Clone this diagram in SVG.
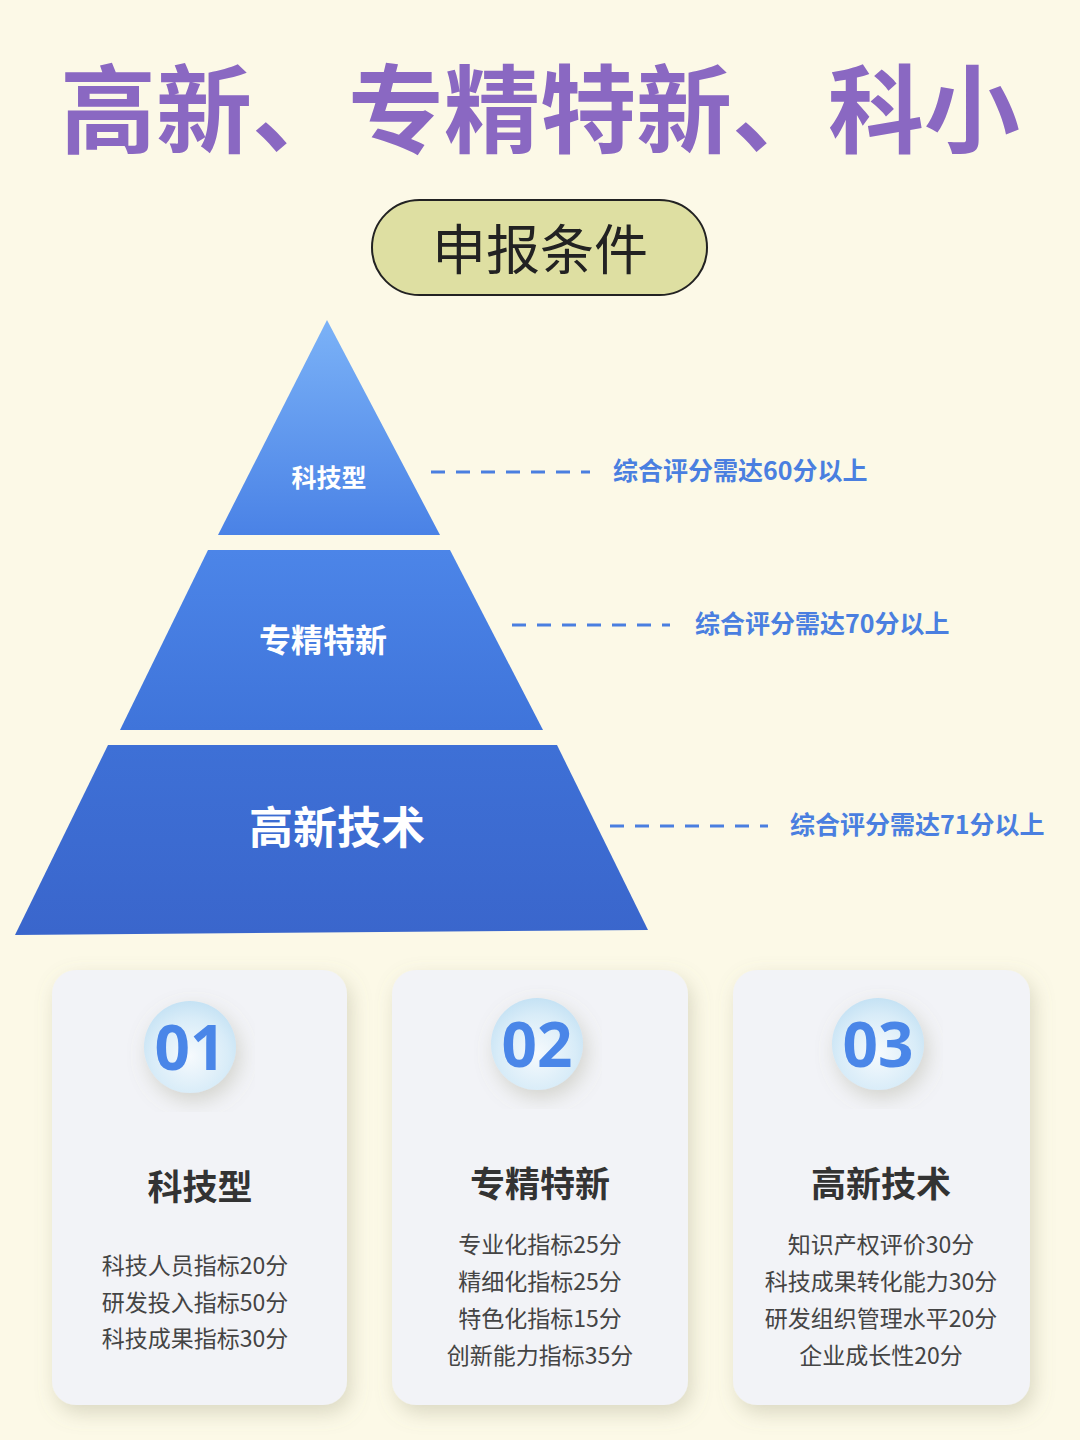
<svg xmlns="http://www.w3.org/2000/svg" width="1080" height="1440" viewBox="0 0 1080 1440">
<defs>
<style>
.cjk{font-family:"Noto Sans CJK SC","Noto Sans",sans-serif}
.lbl{fill:#4A7FE0;font-size:25px;font-weight:700}
.dash{stroke:#4A7FE0;stroke-width:3;stroke-dasharray:14 11}
.card{fill:#F2F3F7}
.num{fill:#4A86E8;font-size:62px;font-weight:700;font-family:"Open Sans","Noto Sans",sans-serif}
.ct{fill:#333;font-size:35px;font-weight:700}
.cb{fill:#444;font-size:23px}
</style>
<linearGradient id="g1" x1="0" y1="0" x2="0" y2="1"><stop offset="0" stop-color="#7BB2F7"/><stop offset="1" stop-color="#4A82E6"/></linearGradient>
<linearGradient id="g2" x1="0" y1="0" x2="0" y2="1"><stop offset="0" stop-color="#4C85E8"/><stop offset="1" stop-color="#3F74DA"/></linearGradient>
<linearGradient id="g3" x1="0" y1="0" x2="0" y2="1"><stop offset="0" stop-color="#3E70D6"/><stop offset="1" stop-color="#3A66CC"/></linearGradient>
<radialGradient id="cg" cx="0.5" cy="0.6" r="0.6"><stop offset="0" stop-color="#F6FAFD"/><stop offset="0.7" stop-color="#D8ECF8"/><stop offset="1" stop-color="#C5E2F4"/></radialGradient>
<filter id="sh" x="-20%" y="-20%" width="140%" height="140%"><feDropShadow dx="4" dy="8" stdDeviation="10" flood-color="#8A8A70" flood-opacity="0.3"/></filter>
</defs>
<rect width="1080" height="1440" fill="#FCF9E7"/>
<g id="title"><text x="540" y="145" text-anchor="middle" class="cjk" font-size="96" font-weight="700" fill="#8A68C2">高新、专精特新、科小</text></g>
<g id="subtitle"><rect x="372" y="200" width="335" height="95" rx="47.5" fill="#DEDFA2" stroke="#222" stroke-width="2"/><text x="540" y="270" text-anchor="middle" class="cjk" font-size="54" fill="#222">申报条件</text></g>
<g id="tier1"><polygon points="327,320 440,535 218,535" fill="url(#g1)"/><text x="329" y="487" text-anchor="middle" class="cjk" font-size="25" font-weight="700" fill="#fff">科技型</text></g>
<g id="tier2"><polygon points="208,550 450,550 543,730 120,730" fill="url(#g2)"/><text x="323" y="652" text-anchor="middle" class="cjk" font-size="32" font-weight="700" fill="#fff">专精特新</text></g>
<g id="tier3"><polygon points="108,745 557,745 648,930 15,935" fill="url(#g3)"/><text x="337" y="844" text-anchor="middle" class="cjk" font-size="44" font-weight="700" fill="#fff">高新技术</text></g>
<g id="connectors">
<line class="dash" x1="431" y1="472" x2="590" y2="472"/>
<line class="dash" x1="512" y1="625" x2="670" y2="625"/>
<line class="dash" x1="610" y1="826" x2="768" y2="826"/>
</g>
<g id="l1"><text x="613" y="480" class="cjk lbl">综合评分需达60分以上</text></g>
<g id="l2"><text x="695" y="633" class="cjk lbl">综合评分需达70分以上</text></g>
<g id="l3"><text x="790" y="834" class="cjk lbl">综合评分需达71分以上</text></g>
<g id="card1">
<rect class="card" x="52" y="970" width="295" height="435" rx="24" filter="url(#sh)"/>
<circle cx="190" cy="1047" r="46" fill="url(#cg)" filter="url(#sh)"/>
<text x="190" y="1070" text-anchor="middle" class="num">01</text>
<text x="200" y="1200" text-anchor="middle" class="cjk ct">科技型</text>
<text x="195" y="1274" text-anchor="middle" class="cjk cb">科技人员指标20分</text>
<text x="195" y="1311" text-anchor="middle" class="cjk cb">研发投入指标50分</text>
<text x="195" y="1347" text-anchor="middle" class="cjk cb">科技成果指标30分</text>
</g>
<g id="card2">
<rect class="card" x="392" y="970" width="296" height="435" rx="24" filter="url(#sh)"/>
<circle cx="537" cy="1044" r="46" fill="url(#cg)" filter="url(#sh)"/>
<text x="537" y="1067" text-anchor="middle" class="num">02</text>
<text x="540" y="1197" text-anchor="middle" class="cjk ct">专精特新</text>
<text x="540" y="1253" text-anchor="middle" class="cjk cb">专业化指标25分</text>
<text x="540" y="1290" text-anchor="middle" class="cjk cb">精细化指标25分</text>
<text x="540" y="1327" text-anchor="middle" class="cjk cb">特色化指标15分</text>
<text x="540" y="1364" text-anchor="middle" class="cjk cb">创新能力指标35分</text>
</g>
<g id="card3">
<rect class="card" x="733" y="970" width="297" height="435" rx="24" filter="url(#sh)"/>
<circle cx="878" cy="1044" r="46" fill="url(#cg)" filter="url(#sh)"/>
<text x="878" y="1067" text-anchor="middle" class="num">03</text>
<text x="881" y="1197" text-anchor="middle" class="cjk ct">高新技术</text>
<text x="881" y="1253" text-anchor="middle" class="cjk cb">知识产权评价30分</text>
<text x="881" y="1290" text-anchor="middle" class="cjk cb">科技成果转化能力30分</text>
<text x="881" y="1327" text-anchor="middle" class="cjk cb">研发组织管理水平20分</text>
<text x="881" y="1364" text-anchor="middle" class="cjk cb">企业成长性20分</text>
</g>
</svg>
